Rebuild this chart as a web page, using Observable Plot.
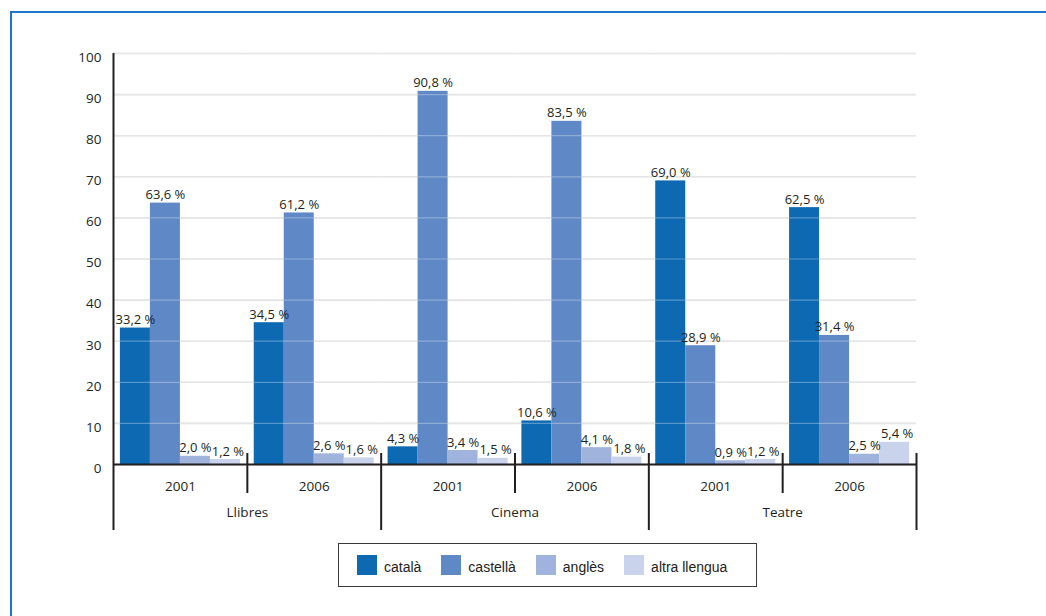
<!DOCTYPE html>
<html><head><meta charset="utf-8">
<script src="https://cdn.jsdelivr.net/npm/d3@7"></script>
<script src="https://cdn.jsdelivr.net/npm/@observablehq/plot@0.6"></script>
<style>
body{margin:0;background:#fff;width:1046px;height:616px;overflow:hidden;position:relative;font-family:"Open Sans",sans-serif;}
#frame{position:absolute;left:10px;top:11px;right:-10px;bottom:-10px;border-left:2px solid #1d76c8;border-top:2px solid #1d76c8;}
#chart{position:absolute;left:0;top:0;}
#legend{position:absolute;left:338px;top:543px;width:419px;height:44px;box-sizing:border-box;border:1px solid #3a3a3a;display:flex;align-items:center;padding-left:18px;font-family:"Liberation Sans",Arial,sans-serif;font-size:14px;color:#222;}
.item{display:flex;align-items:center;margin-right:20px}
.sw{width:20px;height:20px;margin-right:7px}
.lb{padding-top:3px}
</style></head><body>
<div id="frame"></div><div id="chart"></div><div id="legend"></div>
<script>
// ---- data ----
const categories = ["Llibres", "Cinema", "Teatre"];
const years = ["2001", "2006"];
const languages = ["català", "castellà", "anglès", "altra llengua"];
const colors = ["#0d69b2", "#5f88c6", "#a0b3dc", "#c9d3ec"];
// values per group: Llibres 2001, Llibres 2006, Cinema 2001, Cinema 2006, Teatre 2001, Teatre 2006
const catala   = [33.2, 34.5, 4.3, 10.6, 69.0, 62.5];
const castella = [63.6, 61.2, 90.8, 83.5, 28.9, 31.4];
const angles   = [2.0, 2.6, 3.4, 4.1, 0.9, 2.5];
const altra    = [1.2, 1.6, 1.5, 1.8, 1.2, 5.4];
const yTicks = [0, 10, 20, 30, 40, 50, 60, 70, 80, 90, 100];

const series = [catala, castella, angles, altra];

// ---- layout ----
const W = 1046, H = 540, ML = 113, MR = 130, MT = 53, MB = 76;
const groupW = (W - ML - MR) / (categories.length * years.length);
const ink = "#231f20";

const rows = [];
const groups = [];
categories.forEach((c, ci) => years.forEach((yr, yi) => {
  const g = ci * years.length + yi;
  const key = c + " " + yr;
  groups.push({group: key, category: c, year: yr, first: yi === 0, index: g});
  languages.forEach((lang, li) => rows.push({group: key, lang, li, value: series[li][g]}));
}));
const groupKeys = groups.map(d => d.group);
const fmt = v => v.toFixed(1).replace(".", ",") + " %";
const sepStyle = {fx: "group", x: null, stroke: ink, strokeWidth: 2};
const labelStyle = {fx: "group", x: "lang", y: "value", text: d => fmt(d.value), lineAnchor: "bottom", dy: -4, fill: ink, fontSize: 13};

const chart = Plot.plot({
  width: W, height: H,
  marginLeft: ML, marginRight: MR, marginTop: MT, marginBottom: MB,
  style: {fontFamily: "'Open Sans', sans-serif", fontSize: "13.5px", color: ink, background: "transparent", overflow: "visible"},
  fx: {domain: groupKeys, padding: 0, axis: null, round: false},
  x: {domain: languages, paddingInner: 0, paddingOuter: 0.23, axis: null, round: false},
  y: {domain: [0, 100], axis: null},
  color: {domain: languages, range: colors},
  marks: [
    Plot.ruleY(yTicks, {stroke: "#dcdcdc", strokeWidth: 1.6}),
    Plot.barY(rows, {fx: "group", x: "lang", y: "value", fill: "lang"}),
    Plot.ruleY(yTicks.filter(d => d > 0), {stroke: "#ffffff", strokeOpacity: 0.3, strokeWidth: 1.2}),
    Plot.ruleY([0], {stroke: ink, strokeWidth: 2}),
    Plot.text(rows.filter(d => d.li < 3), labelStyle),
    Plot.text(rows.filter(d => d.li === 3), {...labelStyle, dx: 2.5}),
    // y tick labels
    Plot.text(yTicks, {fx: () => groupKeys[0], y: d => d, text: d => String(d), frameAnchor: "left", textAnchor: "end", dx: -12, dy: 4, fill: ink, fontSize: 13.5}),
    // y axis line (also first separator)
    Plot.ruleX([groups[0]], {...sepStyle, y1: 0, y2: 100, dx: -groupW / 2, insetTop: 66}),
    // long separators
    Plot.ruleX(groups.filter(d => d.first && d.index > 0), {...sepStyle, y1: 0, y2: 0, dx: -groupW / 2, insetTop: 66, insetBottom: 11}),
    Plot.ruleX([groups[groups.length - 1]], {...sepStyle, y1: 0, y2: 0, dx: groupW / 2, insetTop: 66, insetBottom: 11}),
    // short separators
    Plot.ruleX(groups.filter(d => !d.first), {...sepStyle, y1: 0, y2: 0, dx: -groupW / 2, insetTop: 29, insetBottom: 11}),
    // year labels
    Plot.text(groups, {fx: "group", text: "year", frameAnchor: "bottom", lineAnchor: "middle", dy: 22, fill: ink, fontSize: 13.5}),
    // category labels
    Plot.text(groups.filter(d => d.first), {fx: "group", text: "category", frameAnchor: "bottom-right", textAnchor: "middle", lineAnchor: "middle", dy: 48, fill: ink, fontSize: 13.5})
  ]
});
document.getElementById("chart").appendChild(chart);

// legend
const legend = document.getElementById("legend");
languages.forEach((lang, i) => {
  const item = document.createElement("div");
  item.className = "item";
  const sw = document.createElement("div");
  sw.className = "sw";
  sw.style.background = colors[i];
  const lb = document.createElement("span");
  lb.className = "lb";
  lb.textContent = lang;
  item.appendChild(sw); item.appendChild(lb);
  legend.appendChild(item);
});
</script></body></html>
